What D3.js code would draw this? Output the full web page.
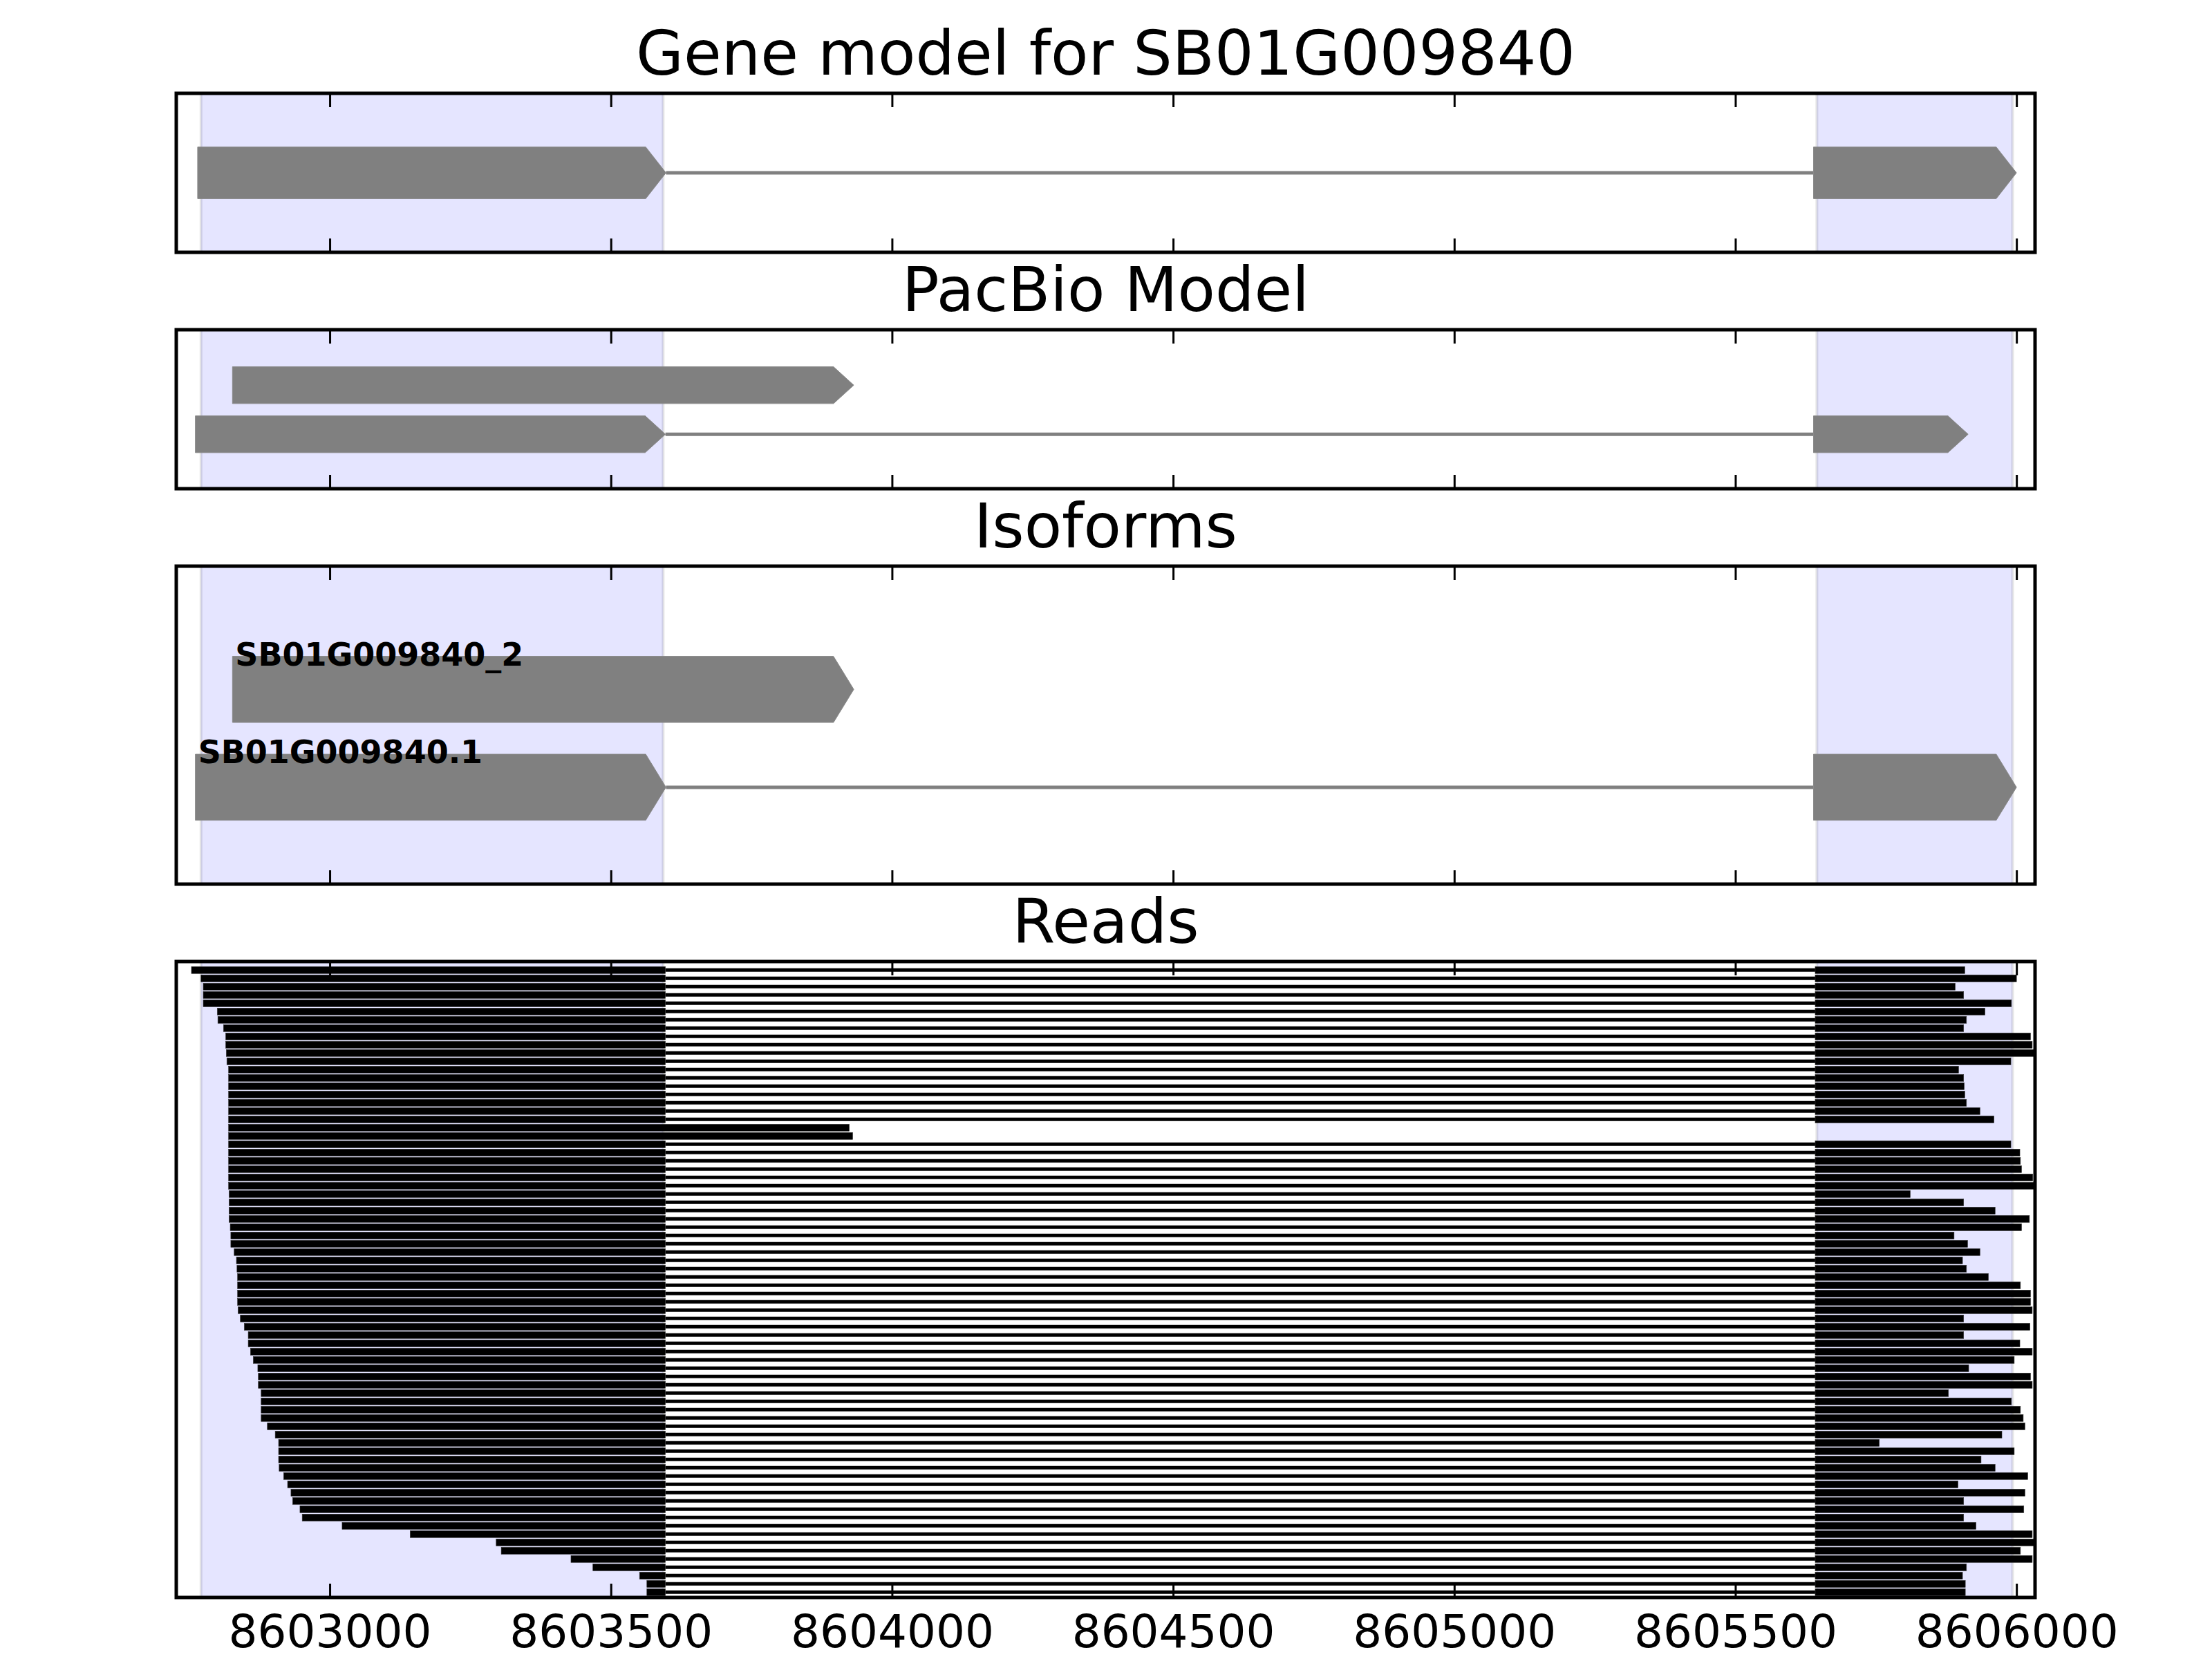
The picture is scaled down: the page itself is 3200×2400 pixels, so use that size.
<!DOCTYPE html>
<html>
<head>
<meta charset="utf-8">
<script src="https://cdn.jsdelivr.net/npm/d3@7/dist/d3.min.js"></script>
<style>
  body { margin: 0; background: #fff; }
  svg { display: block; font-family: "DejaVu Sans", sans-serif; }
</style>
</head>
<body>
<div id="chart"></div>
<script>
// ---- data ----
var panelTitles = ["Gene model for SB01G009840", "PacBio Model", "Isoforms", "Reads"];
var xTicks = [8603000, 8603500, 8604000, 8604500, 8605000, 8605500, 8606000];
var xLimits = [8602727, 8606033];

var shadedExons = [[8602771, 8603593], [8605645, 8605993]];
var geneModelExons = [[8602765, 8603598], [8605639, 8606000]];

var pacbioExons = [
    [[8602827, 8603932]],
    [[8602761, 8603597], [8605639, 8605914]]
];

var isoformNames = ["SB01G009840_2", "SB01G009840.1"];
var isoformExons = [
    [[8602827, 8603932]],
    [[8602761, 8603598], [8605639, 8606000]]
];

// reads, top to bottom
var readStarts = [
    8602754, 8602771, 8602775, 8602775, 8602775, 8602800, 8602801, 8602811, 8602815, 8602815,
    8602816, 8602817, 8602820, 8602820, 8602820, 8602820, 8602820, 8602820, 8602820, 8602820,
    8602820, 8602820, 8602820, 8602820, 8602820, 8602820, 8602820, 8602821, 8602821, 8602821,
    8602821, 8602823, 8602824, 8602824, 8602830, 8602834, 8602835, 8602836, 8602836, 8602836,
    8602836, 8602837, 8602841, 8602848, 8602855, 8602855, 8602859, 8602864, 8602872, 8602873,
    8602873, 8602878, 8602878, 8602878, 8602878, 8602889, 8602903, 8602909, 8602909, 8602909,
    8602910, 8602918, 8602925, 8602931, 8602934, 8602947, 8602951, 8603022, 8603143, 8603296,
    8603305, 8603429, 8603468, 8603551, 8603564, 8603564
];
var readEnds = [
    8605908, 8606000, 8605891, 8605906, 8605991, 8605944, 8605911, 8605906, 8606025, 8606028,
    8606045, 8605990, 8605897, 8605906, 8605907, 8605908, 8605911, 8605935, 8605960, 8603924,
    8603930, 8605990, 8606006, 8606007, 8606009, 8606029, 8606045, 8605811, 8605906, 8605962,
    8606023, 8606009, 8605889, 8605913, 8605935, 8605904, 8605911, 8605950, 8606007, 8606025,
    8606025, 8606028, 8605906, 8606024, 8605906, 8606006, 8606028, 8605996, 8605915, 8606025,
    8606028, 8605879, 8605991, 8606007, 8606012, 8606015, 8605974, 8605756, 8605996, 8605937,
    8605962, 8606020, 8605896, 8606015, 8605906, 8606013, 8605906, 8605928, 8606028, 8606045,
    8606007, 8606028, 8605911, 8605904, 8605909, 8605909
];
var readIntron = [8603597, 8605642];
var unsplicedReads = [19, 20];

// ---- layout ----
var width = 3200, height = 2400;
var left = 255, right = 2944;
var headLen = 36;   // arrow head length, bp
var panels = [
    { top: 135, height: 230, yDomain: [-1, 1], boxH: 0.65 },
    { top: 477, height: 230, yDomain: [-1.13, 2.11], boxH: 0.75 },
    { top: 819, height: 460, yDomain: [-1.26, 1.99], boxH: 0.675 },
    { top: 1391, height: 920, yDomain: [-1.03, 75.64], boxH: 0.833 }
];

var svg = d3.select("#chart")
    .append("svg")
    .attr("width", width)
    .attr("height", height);

var x = d3.scaleLinear()
    .domain(xLimits)
    .range([left, right]);

var defs = svg.append("defs");

function arrowPath(yc, h, s, e) {
    var x0 = x(s), xt = x(e), xb = Math.max(x0, x(e - headLen));
    return `M${x0},${yc - h / 2}L${xb},${yc - h / 2}L${xt},${yc}L${xb},${yc + h / 2}L${x0},${yc + h / 2}Z`;
}

function drawTranscript(g, y, row, exons, boxH) {
    var yc = y(row);
    var h = y(boxH) - y(0);
    for (var i = 1; i < exons.length; i++) {
        g.append("line")
            .attr("x1", x(exons[i - 1][1]))
            .attr("x2", x(exons[i][0]))
            .attr("y1", yc)
            .attr("y2", yc)
            .attr("stroke", "#808080")
            .attr("stroke-width", 5);
    }
    g.selectAll(null)
        .data(exons)
        .join("path")
        .attr("d", d => arrowPath(yc, h, d[0], d[1]))
        .attr("fill", "#808080")
        .attr("stroke", "#8a8a8a")
        .attr("stroke-width", 1);
}

panels.forEach(function(p, pi) {
    var y = d3.scaleLinear()
        .domain(p.yDomain)
        .range([p.top, p.top + p.height]);

    defs.append("clipPath")
        .attr("id", "clip" + pi)
        .append("rect")
        .attr("x", left)
        .attr("y", p.top)
        .attr("width", right - left)
        .attr("height", p.height);

    var g = svg.append("g").attr("class", "panel");
    var inner = g.append("g").attr("clip-path", `url(#clip${pi})`);

    // shaded exon regions
    inner.selectAll(".shade")
        .data(shadedExons)
        .join("rect")
        .attr("class", "shade")
        .attr("x", d => x(d[0]))
        .attr("y", p.top - 10)
        .attr("width", d => x(d[1]) - x(d[0]))
        .attr("height", p.height + 20)
        .attr("fill", "rgba(0,0,255,0.1)")
        .attr("stroke", "rgba(0,0,0,0.1)")
        .attr("stroke-width", 4);

    if (pi === 0) {
        drawTranscript(inner, y, 0, geneModelExons, p.boxH);
    } else if (pi === 1) {
        pacbioExons.forEach((ex, i) => drawTranscript(inner, y, i, ex, p.boxH));
    } else if (pi === 2) {
        isoformExons.forEach((ex, i) => drawTranscript(inner, y, i, ex, p.boxH));
        inner.selectAll(".iso-label")
            .data(isoformNames)
            .join("text")
            .attr("class", "iso-label")
            .attr("x", (d, i) => x(isoformExons[i][0][0]) + 4)
            .attr("y", (d, i) => y(i - p.boxH / 2) + 13)
            .style("font-size", "46px")
            .style("font-weight", "bold")
            .attr("fill", "#000")
            .text(d => d);
    } else {
        var bh = y(p.boxH) - y(0);
        var reads = readStarts.map((s, i) => ({
            row: i,
            start: s,
            end: readEnds[i],
            spliced: unsplicedReads.indexOf(i) < 0
        }));
        var spliced = reads.filter(d => d.spliced);

        inner.selectAll(".intron")
            .data(spliced)
            .join("line")
            .attr("class", "intron")
            .attr("x1", x(readIntron[0]))
            .attr("x2", x(readIntron[1]))
            .attr("y1", d => y(d.row))
            .attr("y2", d => y(d.row))
            .attr("stroke", "#000")
            .attr("stroke-width", 5);

        var blocks = reads.flatMap(d => d.spliced
            ? [{ row: d.row, s: d.start, e: readIntron[0] }, { row: d.row, s: readIntron[1], e: d.end }]
            : [{ row: d.row, s: d.start, e: d.end }]);

        inner.selectAll(".exon")
            .data(blocks)
            .join("rect")
            .attr("class", "exon")
            .attr("x", d => x(d.s))
            .attr("y", d => y(d.row) - bh / 2)
            .attr("width", d => x(d.e) - x(d.s))
            .attr("height", bh)
            .attr("fill", "#000")
            .attr("stroke", "#333")
            .attr("stroke-width", 0.6);
    }

    // ticks, inward, top and bottom
    var bottomAxis = d3.axisBottom(x)
        .tickValues(xTicks)
        .tickSize(-20)
        .tickPadding(25)
        .tickFormat(pi === panels.length - 1 ? d3.format("d") : "");
    var topAxis = d3.axisTop(x)
        .tickValues(xTicks)
        .tickSize(-20)
        .tickFormat("");

    var gb = g.append("g")
        .attr("transform", `translate(0,${p.top + p.height})`)
        .call(bottomAxis);
    var gt = g.append("g")
        .attr("transform", `translate(0,${p.top})`)
        .call(topAxis);
    [gb, gt].forEach(a => {
        a.select(".domain").remove();
        a.selectAll(".tick line").attr("stroke", "#000").attr("stroke-width", 3);
        a.selectAll(".tick text")
            .attr("fill", "#000")
            .style("font-family", "DejaVu Sans")
            .style("font-size", "66px");
    });

    // frame
    g.append("rect")
        .attr("x", left)
        .attr("y", p.top)
        .attr("width", right - left)
        .attr("height", p.height)
        .attr("fill", "none")
        .attr("stroke", "#000")
        .attr("stroke-width", 5);

    // title
    g.append("text")
        .attr("x", (left + right) / 2)
        .attr("y", p.top - 27)
        .attr("text-anchor", "middle")
        .style("font-size", "89px")
        .attr("fill", "#000")
        .text(panelTitles[pi]);
});
</script>
</body>
</html>
